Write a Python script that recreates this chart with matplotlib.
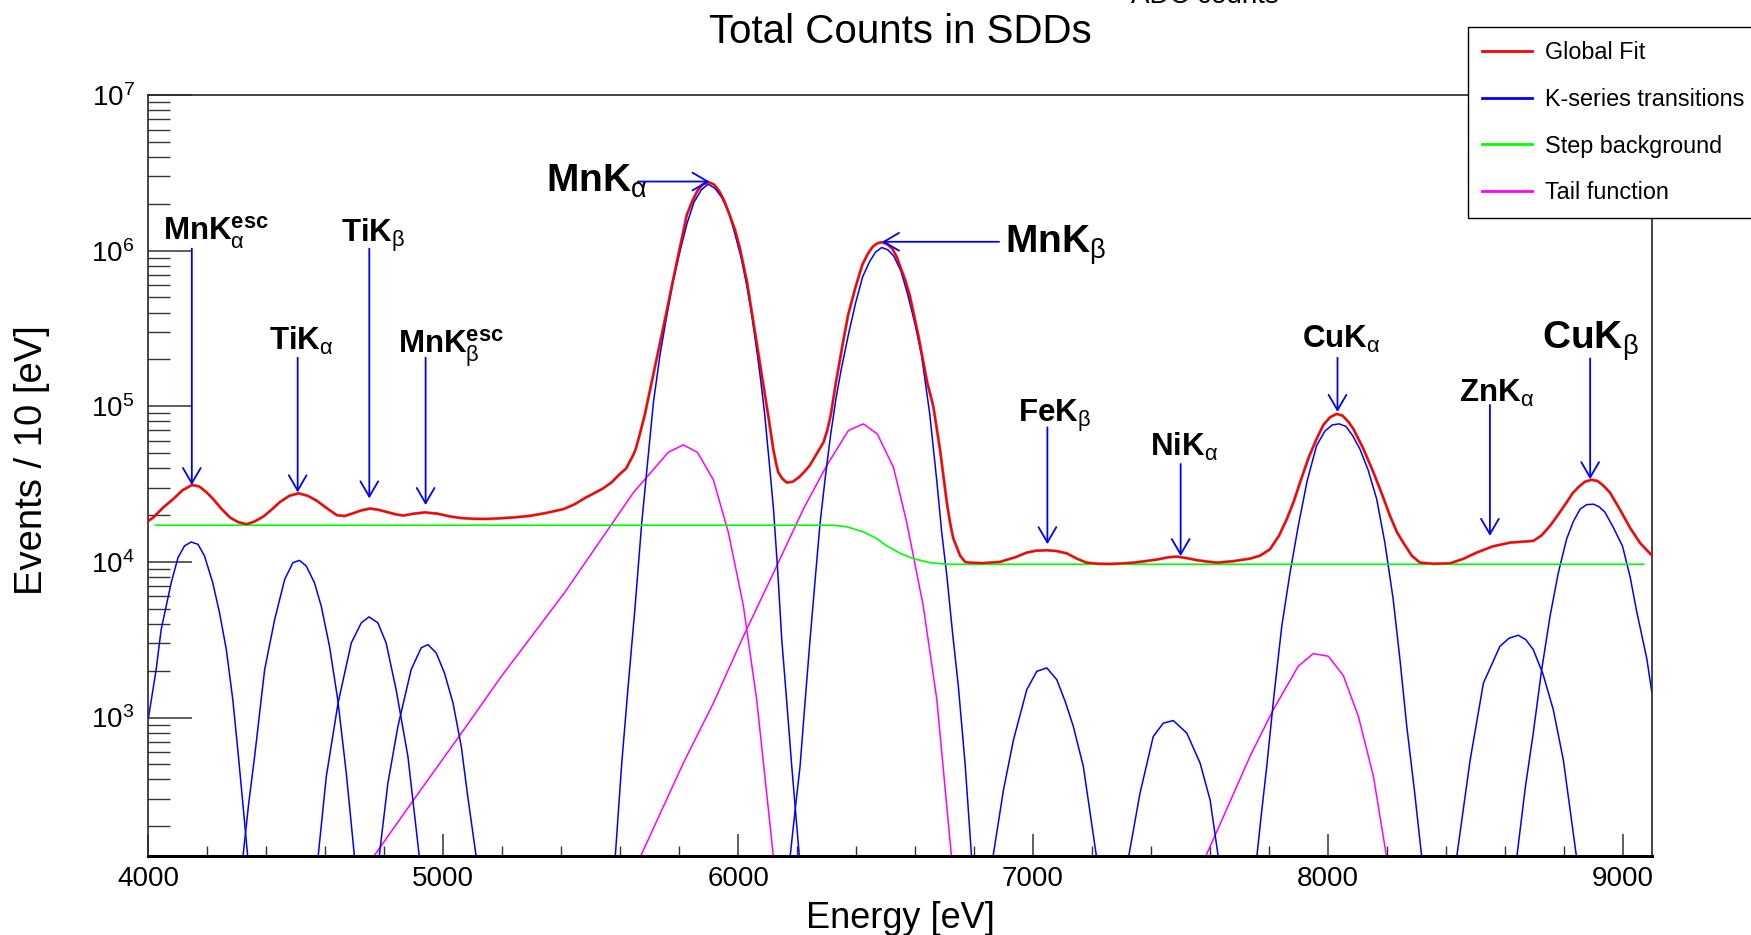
import numpy as np
import matplotlib.pyplot as plt
from matplotlib.ticker import MultipleLocator, LogLocator, NullFormatter

plt.rcParams.update({
    'font.family': 'Liberation Sans',
    'mathtext.fontset': 'custom',
    'mathtext.rm': 'Liberation Sans',
    'mathtext.it': 'Liberation Sans:italic',
    'mathtext.bf': 'Liberation Sans:bold',
    'mathtext.sf': 'Liberation Sans',
})

# values, stored as log10(events / 10 eV)
fit_E = [4000, 4016, 4050, 4084, 4115, 4147, 4172, 4197, 4220, 4248, 4277, 4305, 4333, 4360, 4390,
         4420, 4446, 4478, 4509, 4540, 4571, 4605, 4639, 4665, 4690, 4720, 4751, 4780, 4810, 4840,
         4865, 4900, 4938, 4980, 5023, 5060, 5102, 5140, 5181, 5240, 5294, 5350, 5407, 5445, 5480,
         5510, 5540, 5570, 5599, 5620, 5634, 5645, 5653, 5665, 5683, 5707, 5731, 5755, 5778, 5802,
         5826, 5845, 5862, 5880, 5900, 5918, 5935, 5953, 5971, 5990, 6006, 6030, 6048, 6066, 6084,
         6102, 6119, 6128, 6136, 6150, 6165, 6185, 6207, 6225, 6243, 6265, 6290, 6303, 6314, 6332,
         6356, 6373, 6397, 6421, 6440, 6457, 6472, 6487, 6505, 6522, 6538, 6552, 6567, 6582, 6611,
         6641, 6662, 6685, 6708, 6720, 6730, 6753, 6770, 6787, 6830, 6888, 6940, 6979, 7010, 7047,
         7080, 7115, 7150, 7182, 7220, 7262, 7300, 7341, 7380, 7420, 7460, 7488, 7520, 7560, 7623,
         7680, 7736, 7770, 7804, 7835, 7861, 7885, 7906, 7935, 7962, 7985, 8008, 8030, 8050, 8070,
         8087, 8120, 8155, 8185, 8211, 8235, 8256, 8285, 8313, 8360, 8415, 8460, 8505, 8560, 8618,
         8660, 8697, 8725, 8754, 8780, 8810, 8830, 8850, 8872, 8895, 8915, 8935, 8957, 8990, 9026,
         9060, 9100]
fit_log = [4.264, 4.285, 4.35, 4.404, 4.46, 4.494, 4.485, 4.447, 4.403, 4.34, 4.285, 4.255, 4.242, 4.26, 4.292,
           4.34, 4.385, 4.425, 4.441, 4.425, 4.393, 4.345, 4.30, 4.295, 4.31, 4.33, 4.343, 4.335, 4.32, 4.305,
           4.298, 4.31, 4.318, 4.31, 4.292, 4.282, 4.277, 4.276, 4.279, 4.286, 4.296, 4.315, 4.339, 4.37, 4.41,
           4.44, 4.47, 4.51, 4.565, 4.60, 4.65, 4.69, 4.727, 4.81, 4.942, 5.158, 5.371, 5.586, 5.80, 6.015,
           6.23, 6.32, 6.385, 6.425, 6.44, 6.425, 6.385, 6.32, 6.23, 6.13, 6.015, 5.80, 5.586, 5.371, 5.158,
           4.942, 4.727, 4.64, 4.576, 4.535, 4.51, 4.515, 4.545, 4.58, 4.62, 4.69, 4.77, 4.85, 4.942, 5.156,
           5.414, 5.586, 5.758, 5.908, 5.98, 6.026, 6.047, 6.054, 6.042, 6.015, 5.96, 5.886, 5.81, 5.714, 5.457,
           5.156, 5.0, 4.72, 4.38, 4.24, 4.15, 4.04, 4.0, 3.995, 3.992, 4.0, 4.03, 4.06, 4.072, 4.075,
           4.07, 4.055, 4.02, 3.995, 3.988, 3.987, 3.99, 3.995, 4.005, 4.015, 4.03, 4.034, 4.025, 4.01, 3.995,
           4.005, 4.021, 4.04, 4.081, 4.17, 4.275, 4.39, 4.511, 4.67, 4.79, 4.88, 4.93, 4.951, 4.94, 4.90,
           4.854, 4.73, 4.575, 4.43, 4.296, 4.19, 4.124, 4.04, 3.995, 3.988, 3.991, 4.02, 4.06, 4.10, 4.124,
           4.13, 4.135, 4.17, 4.232, 4.30, 4.382, 4.44, 4.48, 4.515, 4.528, 4.52, 4.49, 4.446, 4.34, 4.217,
           4.12, 4.04]

# step background
bkg_E = [4024, 6323, 6370, 6425, 6470, 6504, 6550, 6594, 6650, 6708, 9071]
bkg_log = [4.236, 4.236, 4.225, 4.193, 4.15, 4.103, 4.055, 4.021, 3.996, 3.985, 3.985]

# tail functions: MnKa, MnKb, CuKa
tail_E = [
    [4761, 4903, 5055, 5197, 5411, 5532, 5645, 5763, 5814, 5862, 5916, 5967, 6018, 6063, 6120],
    [5667, 5814, 5916, 6018, 6131, 6221, 6300, 6374, 6425, 6472, 6527, 6572, 6628, 6674, 6724],
    [7584, 7646, 7736, 7815, 7900, 7951, 8002, 8053, 8104, 8155, 8200],
]
tail_log = [
    [2.1, 2.481, 2.883, 3.265, 3.802, 4.135, 4.446, 4.704, 4.752, 4.704, 4.528, 4.189, 3.716, 3.115, 2.1],
    [2.1, 2.707, 3.093, 3.523, 3.974, 4.339, 4.618, 4.844, 4.887, 4.822, 4.607, 4.253, 3.716, 3.115, 2.1],
    [2.1, 2.363, 2.75, 3.05, 3.33, 3.411, 3.394, 3.269, 3.007, 2.621, 2.1],
]

# K-series transitions: MnKa esc, TiKa, TiKb, MnKb esc, MnKa, MnKb, FeKb, NiKa, CuKa, ZnKa, CuKb
peak_E = [
    [4000, 4026, 4043, 4060, 4077, 4100, 4122, 4145, 4168, 4190, 4218, 4241, 4264, 4286, 4303, 4320, 4337],
    [4320, 4340, 4360, 4394, 4428, 4462, 4490, 4512, 4535, 4563, 4586, 4614, 4642, 4671, 4699],
    [4575, 4603, 4643, 4688, 4722, 4748, 4778, 4806, 4840, 4880, 4919],
    [4782, 4812, 4846, 4891, 4925, 4948, 4976, 5004, 5033, 5061, 5083, 5112],
    [5583, 5605, 5626, 5650, 5673, 5695, 5713, 5735, 5755, 5779, 5802, 5826, 5850, 5875, 5898, 5922, 5945,
     5970, 5993, 6011, 6029, 6047, 6064, 6077, 6090, 6105, 6120, 6134, 6148, 6165, 6182, 6208],
    [6176, 6193, 6210, 6227, 6244, 6261, 6278, 6296, 6314, 6332, 6350, 6374, 6398, 6422, 6446, 6466, 6487,
     6508, 6528, 6552, 6575, 6600, 6622, 6650, 6675, 6690, 6708, 6727, 6747, 6770, 6792],
    [6864, 6900, 6934, 6979, 7013, 7047, 7081, 7110, 7137, 7171, 7216],
    [7324, 7363, 7408, 7442, 7476, 7522, 7567, 7601, 7629],
    [7759, 7776, 7793, 7818, 7844, 7872, 7900, 7930, 7962, 7990, 8015, 8039, 8062, 8085, 8109, 8137, 8166,
     8194, 8222, 8245, 8268, 8294, 8319],
    [8437, 8483, 8528, 8584, 8615, 8646, 8672, 8697, 8730, 8765, 8799, 8844],
    [8641, 8670, 8697, 8725, 8754, 8782, 8810, 8833, 8856, 8878, 8901, 8920, 8940, 8969, 9000, 9026, 9048,
     9082, 9100],
]
peak_log = [
    [3.0, 3.308, 3.566, 3.716, 3.866, 4.027, 4.103, 4.128, 4.113, 4.038, 3.866, 3.673, 3.437, 3.115, 2.792,
     2.449, 2.1],
    [2.1, 2.45, 2.75, 3.308, 3.63, 3.888, 3.995, 4.01, 3.974, 3.866, 3.716, 3.458, 3.115, 2.642, 2.1],
    [2.1, 2.62, 3.093, 3.48, 3.609, 3.647, 3.609, 3.48, 3.179, 2.75, 2.1],
    [2.1, 2.578, 2.943, 3.308, 3.448, 3.469, 3.415, 3.286, 3.093, 2.814, 2.492, 2.1],
    [2.1, 2.7, 3.18, 3.70, 4.25, 4.68, 5.03, 5.33, 5.55, 5.80, 5.99, 6.17, 6.31, 6.39, 6.427, 6.40, 6.34,
     6.24, 6.08, 5.95, 5.78, 5.58, 5.35, 5.16, 4.95, 4.65, 4.339, 3.95, 3.502, 3.1, 2.685, 2.1],
    [2.1, 2.4, 2.685, 3.1, 3.502, 3.88, 4.25, 4.55, 4.82, 5.05, 5.24, 5.46, 5.66, 5.83, 5.93, 5.99, 6.02,
     6.005, 5.965, 5.87, 5.72, 5.53, 5.33, 4.95, 4.5, 4.2, 3.91, 3.55, 3.2, 2.7, 2.1],
    [2.1, 2.535, 2.857, 3.179, 3.297, 3.319, 3.243, 3.10, 2.943, 2.685, 2.1],
    [2.1, 2.513, 2.878, 2.964, 2.981, 2.9, 2.707, 2.47, 2.1],
    [2.1, 2.4, 2.685, 3.15, 3.587, 3.93, 4.232, 4.52, 4.747, 4.84, 4.88, 4.887, 4.87, 4.81, 4.725, 4.59,
     4.403, 4.12, 3.759, 3.37, 2.943, 2.53, 2.1],
    [2.1, 2.728, 3.222, 3.458, 3.51, 3.529, 3.50, 3.437, 3.28, 3.05, 2.728, 2.1],
    [2.1, 2.55, 2.9, 3.3, 3.652, 3.93, 4.146, 4.26, 4.339, 4.368, 4.371, 4.355, 4.32, 4.22, 4.1, 3.9, 3.68,
     3.38, 3.153],
]

# line labels: text, text position (E, counts), arrow start, arrow end, big font
labels = [r'$\mathbf{MnK}_{\mathrm{\alpha}}^{\mathbf{esc}}$', r'$\mathbf{TiK}_{\mathrm{\alpha}}$',
          r'$\mathbf{TiK}_{\mathrm{\beta}}$', r'$\mathbf{MnK}_{\mathrm{\beta}}^{\mathbf{esc}}$',
          r'$\mathbf{MnK}_{\mathrm{\alpha}}$', r'$\mathbf{MnK}_{\mathrm{\beta}}$',
          r'$\mathbf{FeK}_{\mathrm{\beta}}$', r'$\mathbf{NiK}_{\mathrm{\alpha}}$',
          r'$\mathbf{CuK}_{\mathrm{\alpha}}$', r'$\mathbf{ZnK}_{\mathrm{\alpha}}$',
          r'$\mathbf{CuK}_{\mathrm{\beta}}$']
label_pos = [(4048, 1.17e6), (4410, 2.29e5), (4653, 1.14e6), (4847, 2.18e5), (5348, 2.39e6),
             (6905, 9.73e5), (6951, 7.96e4), (7397, 4.81e4), (7913, 2.36e5), (8445, 1.07e5),
             (8727, 2.34e5)]
arrow_from = [(4147, 1.03e6), (4506, 2.05e5), (4749, 1.03e6), (4940, 2.05e5), (5660, 2.78e6),
              (6885, 1.14e6), (7049, 7.33e4), (7501, 4.26e4), (8033, 2.05e5), (8550, 1.02e5),
              (8890, 2.03e5)]
arrow_to = [(4147, 3.12e4), (4506, 2.80e4), (4749, 2.56e4), (4940, 2.32e4), (5903, 2.78e6),
            (6488, 1.14e6), (7049, 1.30e4), (7501, 1.09e4), (8033, 9.20e4), (8550, 1.47e4),
            (8890, 3.40e4)]
big = [False, False, False, False, True, True, False, False, False, False, True]

fig = plt.figure(figsize=(17.51, 9.35), dpi=100)
ax = fig.add_axes([0.0848, 0.0845, 0.8587, 0.8139])

fit_counts = 10 ** np.array(fit_log)
# data histogram peeking out under the fit
ax.plot(fit_E, fit_counts, color='0.3', lw=2.2, alpha=0.5)
fit_line, = ax.plot(fit_E, fit_counts, color='red', lw=1.6, zorder=4)
bkg_line, = ax.plot(bkg_E, 10 ** np.array(bkg_log), color='#00ff00', lw=1.2, zorder=3)
for E, lg in zip(tail_E, tail_log):
    tail_line, = ax.plot(E, 10 ** np.array(lg), color='magenta', lw=1.1)
for E, lg in zip(peak_E, peak_log):
    peak_line, = ax.plot(E, 10 ** np.array(lg), color='blue', lw=1.1)

for txt, pos, a0, a1, b in zip(labels, label_pos, arrow_from, arrow_to, big):
    ax.text(pos[0], pos[1], txt, fontsize=28 if b else 22.5, ha='left', va='baseline', zorder=6)
    ax.annotate('', xy=a1, xytext=a0,
                arrowprops=dict(arrowstyle='->,head_length=0.55,head_width=0.32', color='blue',
                                lw=1.3, shrinkA=0, shrinkB=0, mutation_scale=20), zorder=5)

ax.set_yscale('log')
ax.set_xlim(4000, 9100)
ax.set_ylim(129, 1e7)
ax.xaxis.set_major_locator(MultipleLocator(1000))
ax.xaxis.set_minor_locator(MultipleLocator(200))
ax.yaxis.set_major_locator(LogLocator(base=10, numticks=12))
ax.yaxis.set_minor_locator(LogLocator(base=10, subs=np.arange(2, 10), numticks=12))
ax.yaxis.set_minor_formatter(NullFormatter())
ax.tick_params(axis='x', which='major', direction='in', length=15.8, width=1.1, labelsize=20, pad=7,
               top=False, color='0.2')
ax.tick_params(axis='x', which='minor', direction='in', length=7.2, width=1.0, top=False, color='0.2')
ax.tick_params(axis='y', which='major', direction='in', length=31.7, width=1.1, labelsize=20, pad=10,
               right=False, color='0.2')
ax.tick_params(axis='y', which='minor', direction='in', length=15.8, width=1.0, right=False, color='0.2')
for s in ax.spines.values():
    s.set_linewidth(1.2)
    s.set_color('0.15')
ax.spines['bottom'].set_linewidth(2.2)
ax.spines['bottom'].set_color('black')

fig.text(0.514, 0.9535, 'Total Counts in SDDs', fontsize=29, ha='center', va='baseline')
fig.text(0.646, 0.9965, 'ADC counts', fontsize=20, ha='left', va='baseline')
fig.text(0.514, 0.0075, 'Energy [eV]', fontsize=26, ha='center', va='baseline')
fig.text(0.018, 0.508, 'Events / 10 [eV]', fontsize=27.5, ha='center', va='center', rotation=90)

leg = fig.legend([fit_line, peak_line, bkg_line, tail_line],
                 ['Global Fit', 'K-series transitions', 'Step background', 'Tail function'],
                 loc='upper left', bbox_to_anchor=(1468 / 1751, 1 - 27 / 935), borderaxespad=0,
                 fontsize=16.8, frameon=True, fancybox=False, edgecolor='black', framealpha=1,
                 borderpad=0.6, handlelength=2.15, handletextpad=0.55, labelspacing=1.02)
for ln in leg.get_lines():
    ln.set_linewidth(2.0)

fig.savefig('out.png', dpi=100)
